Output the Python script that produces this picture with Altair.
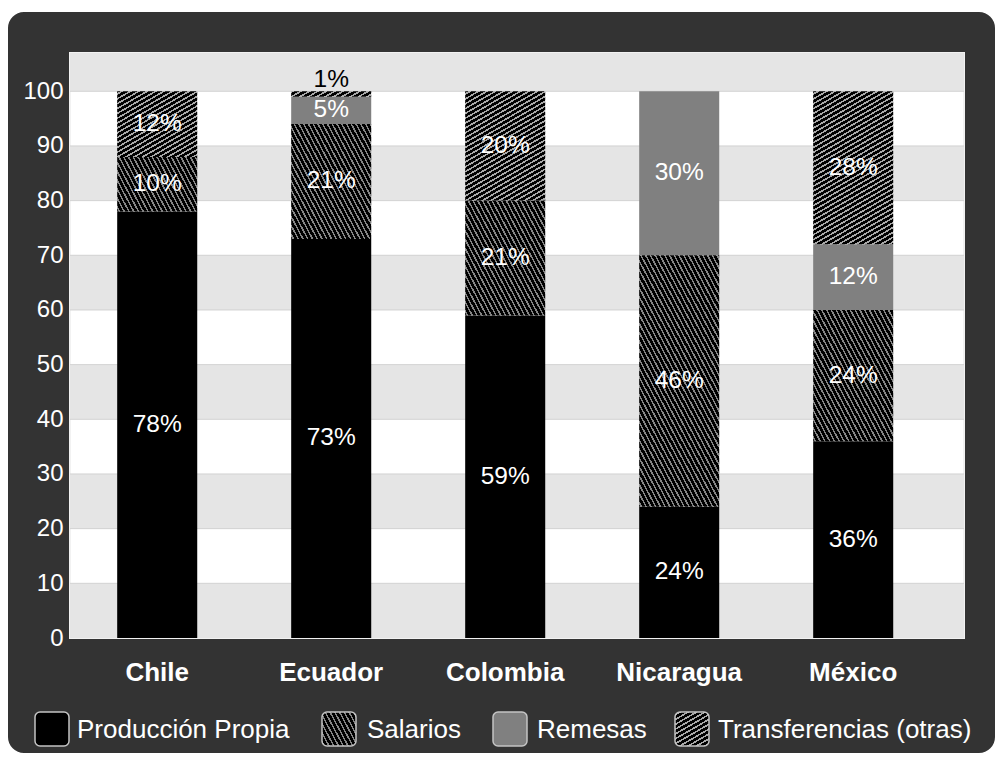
import math
import altair as alt
import pandas as pd

# ---------------- data ----------------
countries = ["Chile", "Ecuador", "Colombia", "Nicaragua", "México"]
categories = ["Producción Propia", "Salarios", "Remesas", "Transferencias (otras)"]
produccion = [78, 73, 59, 24, 36]
salarios = [10, 21, 21, 46, 24]
remesas = [0, 5, 0, 30, 12]
transferencias = [12, 1, 20, 0, 28]
y_ticks = [0, 10, 20, 30, 40, 50, 60, 70, 80, 90, 100]
band_lo = [0, 20, 40, 60, 80, 100]
band_hi = [10, 30, 50, 70, 90, 107]

series = [produccion, salarios, remesas, transferencias]
rows = []
for ci, cat in enumerate(categories):
    for k, c in enumerate(countries):
        rows.append({"country": c, "category": cat, "order": ci, "value": series[ci][k]})
df = pd.DataFrame(rows)

# ---------------- layout / style ----------------
W, H = 894, 585
Y_MAX = 107
PX = H / Y_MAX
BAR_W = 80
FONT = "Liberation Sans"
FRAME = "#333333"

yscale = alt.Scale(domain=[0, Y_MAX], nice=False, zero=True)
xscale = alt.Scale(domain=countries, paddingInner=0.54, paddingOuter=0.339, align=0.4)

xaxis = alt.Axis(title=None, labelAngle=0, labelColor="white", labelFont=FONT, labelFontSize=26,
                 labelFontWeight="bold", ticks=False, domain=False, grid=False,
                 labelBaseline="middle", labelPadding=34, zindex=1)
yaxis = alt.Axis(title=None, values=y_ticks, labelColor="white", labelFont=FONT, labelFontSize=24,
                 ticks=False, domain=False, grid=False, labelPadding=7, zindex=1)


def hatch_fill(w, h, angle, period, lw, bg, fg):
    a = math.radians(angle)
    nx, ny = math.sin(a), -math.cos(a)
    L = w * abs(nx) + h * abs(ny)
    S = (w * nx) ** 2 + (h * ny) ** 2
    x1 = 1.0 if nx < 0 else 0.0
    y1 = 1.0 if ny < 0 else 0.0
    x2 = x1 + L * w * nx / S
    y2 = y1 + L * h * ny / S
    stops = [{"offset": 0, "color": bg}]
    pos = period * 0.3
    while pos < L:
        s = round(pos / L, 5)
        e = round(min((pos + lw) / L, 1.0), 5)
        stops += [{"offset": s, "color": bg}, {"offset": s, "color": fg},
                  {"offset": e, "color": fg}, {"offset": e, "color": bg}]
        pos += period
    stops.append({"offset": 1, "color": bg})
    return {"gradient": "linear", "x1": round(x1, 5), "y1": round(y1, 5),
            "x2": round(x2, 5), "y2": round(y2, 5), "stops": stops}


HATCH = {
    "Salarios": dict(angle=62, period=4.2, lw=1.5, bg="#000000", fg="#858585"),
    "Transferencias (otras)": dict(angle=-30, period=4.2, lw=1.6, bg="#000000", fg="#a8a8a8"),
}
SOLID = {"Producción Propia": "#000000", "Remesas": "#808080"}

one = pd.DataFrame({"k": [0]})

# plot background
plotbg = alt.Chart(one).mark_rect(fill="white", stroke="#f2f2f2", strokeWidth=2).encode(
    x=alt.value(0), x2=alt.value("width"), y=alt.value(0), y2=alt.value("height")
)
bands = alt.Chart(pd.DataFrame({"lo": band_lo, "hi": band_hi})).mark_rect(fill="#e5e5e5").encode(
    x=alt.value(0), x2=alt.value("width"),
    y=alt.Y("lo:Q", scale=yscale, axis=yaxis), y2="hi:Q"
)
grid = alt.Chart(pd.DataFrame({"t": y_ticks[1:]})).mark_rule(color="#d2d2d2", strokeWidth=1).encode(
    x=alt.value(0), x2=alt.value("width"), y=alt.Y("t:Q", scale=yscale, axis=yaxis)
)

stacked = alt.Chart(df).transform_stack(
    stack="value", groupby=["country"], as_=["y0", "y1"],
    sort=[alt.SortField("order", order="ascending")]
)

solid = stacked.transform_filter(
    alt.FieldOneOfPredicate(field="category", oneOf=list(SOLID.keys()))
).transform_filter("datum.value > 0").mark_bar().encode(
    x=alt.X("country:N", scale=xscale, axis=xaxis),
    y=alt.Y("y0:Q", scale=yscale, axis=yaxis),
    y2="y1:Q",
    fill=alt.Fill("category:N", scale=alt.Scale(domain=list(SOLID.keys()), range=list(SOLID.values())),
                  legend=None),
)

hatched_layers = []
for cat, vals in (("Salarios", salarios), ("Transferencias (otras)", transferencias)):
    for c, v in zip(countries, vals):
        if v <= 0:
            continue
        g = hatch_fill(BAR_W, v * PX, **HATCH[cat])
        layer = stacked.transform_filter(
            (alt.datum.country == c) & (alt.datum.category == cat)
        ).mark_bar(fill=g).encode(
            x=alt.X("country:N", scale=xscale, axis=xaxis),
            y=alt.Y("y0:Q", scale=yscale, axis=yaxis),
            y2="y1:Q",
        )
        hatched_layers.append(layer)

labels = stacked.transform_filter("datum.value > 0").transform_calculate(
    ly="datum.value >= 3 ? (datum.y0 + datum.y1) / 2 : datum.y1 + 2",
    txt='datum.value + "%"',
).mark_text(font=FONT, fontSize=24.5, baseline="middle").encode(
    x=alt.X("country:N", scale=xscale, axis=xaxis),
    y=alt.Y("ly:Q", scale=yscale, axis=yaxis),
    text="txt:N",
    color=alt.condition("datum.value >= 3", alt.value("white"), alt.value("black")),
)

# ---------------- legend (manual, for hatch symbols) ----------------
LEG_SYM_X = [-35, 252, 423, 605]
LEG_TXT_X = [7, 297, 467, 648]
LEG_Y0, LEG_SZ = 659, 34
legend_layers = []
for cat, sx, tx in zip(categories, LEG_SYM_X, LEG_TXT_X):
    if cat in HATCH:
        fill = hatch_fill(LEG_SZ, LEG_SZ, **HATCH[cat])
    else:
        fill = SOLID[cat]
    legend_layers.append(
        alt.Chart(one).mark_rect(fill=fill, stroke="#c4c4c4", strokeWidth=1.5, cornerRadius=5).encode(
            x=alt.value(sx), x2=alt.value(sx + LEG_SZ), y=alt.value(LEG_Y0), y2=alt.value(LEG_Y0 + LEG_SZ)
        )
    )
    legend_layers.append(
        alt.Chart(pd.DataFrame({"label": [cat]})).mark_text(
            font=FONT, fontSize=26, color="white", align="left", baseline="middle"
        ).encode(x=alt.value(tx), y=alt.value(LEG_Y0 + LEG_SZ / 2 + 1), text="label:N")
    )

# white margin around the dark rounded frame (frame itself = chart background)
margin = alt.Chart(one).mark_rect(fill="white", fillOpacity=0, stroke="white", strokeWidth=26,
                                  cornerRadius=29).encode(
    x=alt.value(-75), x2=alt.value(938), y=alt.value(-54), y2=alt.value(713)
)

chart = alt.layer(
    plotbg, bands, grid, solid, *hatched_layers, labels, *legend_layers, margin
).properties(
    width=W, height=H,
    autosize=alt.AutoSizeParams(type="none"),
    padding={"left": 70, "top": 53, "right": 1000 - 70 - W, "bottom": 757 - 53 - H},
    background=FRAME,
).configure_view(stroke=None)

chart.save("out.html", embed_options={"renderer": "svg", "actions": False})
